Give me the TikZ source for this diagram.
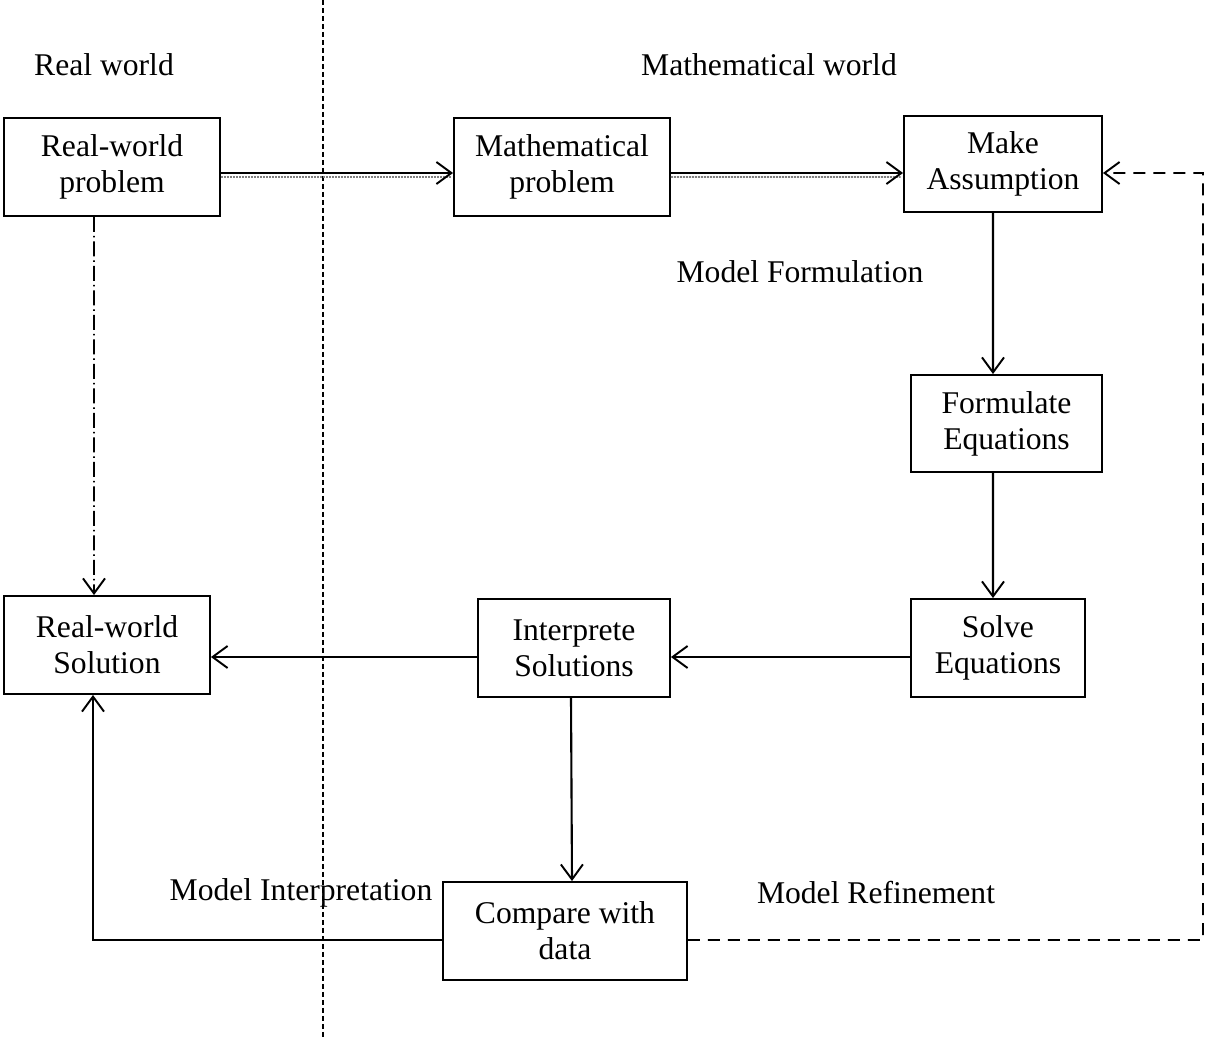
\documentclass[tikz,border=0pt]{standalone}
\usepackage{fontspec}
\setmainfont{Liberation Serif}
\usetikzlibrary{arrows.meta}
\begin{document}
\begin{tikzpicture}[x=0.02cm,y=-0.02cm,
  every node/.style={font=\fontsize{18}{20.5}\selectfont, align=center, inner sep=0pt},
  box/.style={draw, line width=1.1pt, minimum height=1.96cm, execute at begin node={\rule{0pt}{0.66cm}}},
  tip/.style={-{Straight Barb[length=0.3cm,width=0.44cm,line width=1.1pt]}},
  arr/.style={tip, line width=1pt},
  grayline/.style={draw=gray, line width=1pt, dash pattern=on 0.04cm off 0.02cm}]
\useasboundingbox (0,0) rectangle (1207,1038);
% divider
\draw[line width=0.8pt, dash pattern=on 0.1cm off 0.06cm] (323,0) -- (323,1038);
% labels
\node (lrw) at (104,65) {Real world};
\node (lmw) at (769,65) {Mathematical world};
\node (lmf) at (800,272) {Model Formulation};
\node (lmi) at (301,893) {Model Interpretation};
\node (lmr) at (876,893) {Model Refinement};
% boxes
\node[box, minimum width=4.32cm] (rwp) at (112,167) {Real-world\\problem};
\node[box, minimum width=4.32cm] (mp) at (562,167) {Mathematical\\problem};
\node[box, minimum width=3.96cm, minimum height=1.92cm] (ma) at (1003,164) {Make\\Assumption};
\node[box, minimum width=3.82cm, minimum height=1.94cm] (fe) at (1006.5,423.5) {Formulate\\Equations};
\node[box, minimum width=3.48cm] (se) at (998,648) {Solve\\Equations};
\node[box, minimum width=3.84cm] (is) at (574,648) {Interprete\\Solutions};
\node[box, minimum width=4.12cm] (rws) at (107,645) {Real-world\\Solution};
\node[box, minimum width=4.88cm] (cwd) at (565,931) {Compare with\\data};
% top double arrows
\draw[grayline] ([yshift=-0.2cm]rwp.east) -- ([yshift=-0.2cm,xshift=-0.05cm]mp.west);
\draw[arr] ([yshift=-0.12cm]rwp.east) -- ([yshift=-0.12cm]mp.west);
\draw[grayline] ([yshift=-0.2cm]mp.east) -- ([yshift=-0.26cm,xshift=-0.05cm]ma.west);
\draw[arr] ([yshift=-0.12cm]mp.east) -- ([yshift=-0.18cm]ma.west);
% vertical
\draw[arr, line width=1.3pt] ([xshift=-0.2cm]ma.south) -- ([xshift=-0.27cm]fe.north);
\draw[arr, line width=1.3pt] ([xshift=-0.27cm]fe.south) -- ([xshift=-0.1cm]se.north);
\draw[arr] ([yshift=-0.18cm]se.west) -- ([yshift=-0.18cm]is.east);
\draw[arr] ([yshift=-0.18cm]is.west) -- ([yshift=-0.24cm]rws.east);
\draw[arr, line width=1.2pt] ([xshift=-0.06cm]is.south) -- ([xshift=0.14cm]cwd.north);
\draw[arr, line width=1.2pt] ([yshift=-0.18cm]cwd.west) -| ([xshift=-0.28cm]rws.south);
% dashed refinement
\coordinate (rc) at (1203,940);
\draw[arr, dash pattern=on 0.24cm off 0.16cm] ([yshift=-0.18cm]cwd.east) -- (rc) |- ([yshift=-0.18cm]ma.east);
% dash-dot
\draw[arr, dash pattern=on 0.3cm off 0.08cm on 0.03cm off 0.08cm] ([xshift=-0.36cm]rwp.south) -- ([xshift=-0.26cm]rws.north);
\end{tikzpicture}
\end{document}
